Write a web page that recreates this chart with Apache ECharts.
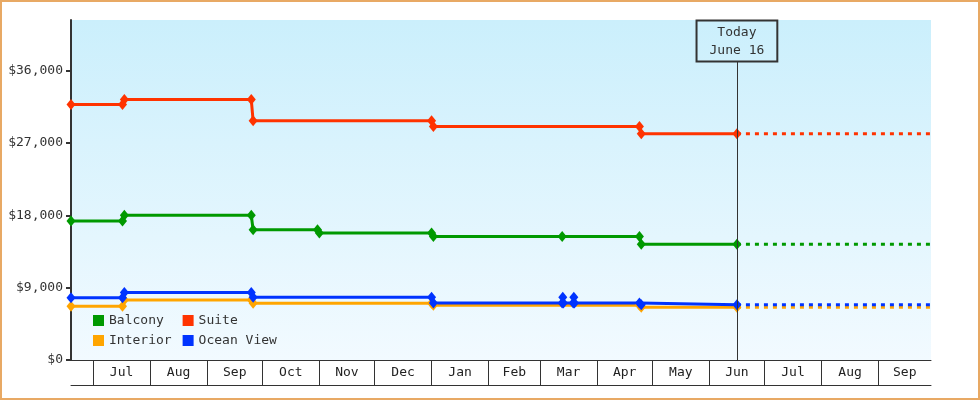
<!DOCTYPE html>
<html><head><meta charset="utf-8">
<script src="https://cdn.jsdelivr.net/npm/echarts@6/dist/echarts.min.js"></script>
<style>html,body{margin:0;padding:0;background:#fff}#c{width:980px;height:400px}</style>
</head><body><div id="c"></div>
<script>
// ---- data ----
const seriesNames = ['Balcony', 'Suite', 'Interior', 'Ocean View'];
const seriesColors = ['#009900', '#ff3300', '#ffa500', '#0033ff'];

const balcony = [
  ['2022-06-19', 17300], ['2022-07-17', 17300], ['2022-07-18', 18000], ['2022-09-25', 18000],
  ['2022-09-26', 16200], ['2022-10-31', 16200], ['2022-11-01', 15800], ['2023-01-01', 15800],
  ['2023-01-02', 15350], ['2023-03-13', 15350], ['2023-04-24', 15350], ['2023-04-25', 14400],
  ['2023-06-16', 14400]
];
const suite = [
  ['2022-06-19', 31800], ['2022-07-17', 31800], ['2022-07-18', 32400], ['2022-09-25', 32400],
  ['2022-09-26', 29750], ['2023-01-01', 29750], ['2023-01-02', 29050], ['2023-04-24', 29050],
  ['2023-04-25', 28150], ['2023-06-16', 28150]
];
const interior = [
  ['2022-06-19', 6700], ['2022-07-17', 6700], ['2022-07-18', 7450], ['2022-09-25', 7450],
  ['2022-09-26', 7050], ['2023-01-01', 7050], ['2023-01-02', 6800], ['2023-04-24', 6800],
  ['2023-04-25', 6550], ['2023-06-16', 6550]
];
const oceanView = [
  ['2022-06-19', 7750], ['2022-07-17', 7750], ['2022-07-18', 8400], ['2022-09-25', 8400],
  ['2022-09-26', 7800], ['2023-01-01', 7800], ['2023-01-02', 7080], ['2023-03-13', 7080],
  ['2023-03-13 08', 7800], ['2023-03-13 16', 7080], ['2023-03-19', 7080], ['2023-03-19 08', 7800],
  ['2023-03-19 16', 7080], ['2023-04-24', 7080], ['2023-04-25', 6870], ['2023-06-16', 6870]
];

const today = '2023-06-16';
const todayLabel = ['Today', 'June 16'];
const axisStart = '2022-06-19';
const axisEnd = '2023-09-29 12';
const monthStarts = ['2022-07-01', '2022-08-01', '2022-09-01', '2022-10-01', '2022-11-01', '2022-12-01',
  '2023-01-01', '2023-02-01', '2023-03-01', '2023-04-01', '2023-05-01', '2023-06-01',
  '2023-07-01', '2023-08-01', '2023-09-01'];
const monthLabels = ['Jul', 'Aug', 'Sep', 'Oct', 'Nov', 'Dec', 'Jan', 'Feb', 'Mar', 'Apr', 'May', 'Jun', 'Jul', 'Aug', 'Sep'];
const yTicks = [0, 9000, 18000, 27000, 36000];
const yMax = 42300;

// ---- helpers ----
function ts(s) {
  const [d, h] = s.split(' ');
  const [y, m, dd] = d.split('-').map(Number);
  return new Date(y, m - 1, dd, h ? Number(h) : 0).getTime();
}
const FONT = 'DejaVu Sans Mono';
const tMin = ts(axisStart), tMax = ts(axisEnd), tToday = ts(today);
const tickTs = monthStarts.map(ts);
const labelTs = tickTs.map((t, i) => (t + (i + 1 < tickTs.length ? tickTs[i + 1] : tMax)) / 2);
const fmtMoney = v => '$' + String(v).replace(/\B(?=(\d{3})+(?!\d))/g, ',');
function monthLabelFor(v) {
  let best = 0, bd = Infinity;
  labelTs.forEach((t, i) => { const dd = Math.abs(t - v); if (dd < bd) { bd = dd; best = i; } });
  return monthLabels[best];
}

const allData = [balcony, suite, interior, oceanView];
const series = [];
allData.forEach((d, i) => {
  series.push({
    name: seriesNames[i],
    type: 'line',
    data: d.map(p => [ts(p[0]), p[1]]),
    symbol: 'diamond',
    symbolSize: [9, 11],
    showAllSymbol: true,
    color: seriesColors[i],
    lineStyle: { width: 3, color: seriesColors[i] },
    itemStyle: { color: seriesColors[i] },
    z: 3,
    emphasis: { disabled: true }
  });
});
// projections (dotted)
allData.forEach((d, i) => {
  const last = d[d.length - 1][1];
  series.push({
    name: seriesNames[i] + ' projection',
    type: 'line',
    data: [[tToday, last], [tMax, last]],
    symbol: 'none',
    lineStyle: { width: 3, type: [4, 5], color: seriesColors[i] },
    z: 2,
    emphasis: { disabled: true }
  });
});
// today marker line
series.push({
  name: 'today',
  type: 'line',
  data: [],
  markLine: {
    silent: true,
    symbol: ['none', 'none'],
    animation: false,
    lineStyle: { color: '#333', width: 1, type: 'solid' },
    label: {
      show: true,
      position: 'end',
      distance: 0,
      formatter: todayLabel.join('\n'),
      fontFamily: FONT, fontSize: 13, color: '#333',
      lineHeight: 18,
      padding: [3, 13, 2, 13],
      borderColor: '#333', borderWidth: 1,
      backgroundColor: 'transparent'
    },
    data: [[{ coord: [tToday, 0] }, { coord: [tToday, yMax * (1 - 41.5 / 340)] }]]
  },
  z: 1
});

const legendCommon = {
  left: 93, padding: 0, icon: 'rect', itemWidth: 11, itemHeight: 11,
  itemGap: 11, itemTextGap: 3, orient: 'horizontal', selectedMode: false,
  formatter: name => name.padEnd(8, ' '),
  textStyle: { fontFamily: FONT, fontSize: 13, color: '#333' }
};

const chart = echarts.init(document.getElementById('c'), null, { renderer: 'canvas' });
chart.setOption({
  animation: false,
  graphic: [{
    type: 'rect', silent: true, z: 100,
    shape: { x: 1, y: 1, width: 978, height: 398 },
    style: { fill: 'none', stroke: '#e8a964', lineWidth: 2 }
  }],
  grid: {
    left: 71, right: 49, top: 20, bottom: 40, containLabel: false,
    show: true, borderWidth: 0,
    backgroundColor: new echarts.graphic.LinearGradient(0, 0, 0, 1, [
      { offset: 0, color: 'rgb(203,239,252)' },
      { offset: 1, color: 'rgb(242,250,255)' }
    ])
  },
  legend: [
    Object.assign({}, legendCommon, { top: 314, data: [seriesNames[0], seriesNames[1]] }),
    Object.assign({}, legendCommon, { top: 334, data: [seriesNames[2], seriesNames[3]] })
  ],
  xAxis: [{
    type: 'value', min: tMin, max: tMax, scale: true,
    axisLine: { show: true, lineStyle: { color: '#333', width: 1 } },
    axisTick: { show: true, customValues: tickTs, length: 25, inside: false, lineStyle: { color: '#333', width: 1 } },
    axisLabel: {
      show: true, customValues: labelTs, margin: 6,
      fontFamily: FONT, fontSize: 13, color: '#222',
      formatter: v => monthLabelFor(v)
    },
    splitLine: { show: false }
  }, {
    type: 'value', min: tMin, max: tMax, scale: true, position: 'bottom', offset: 25,
    axisLine: { show: true, lineStyle: { color: '#333', width: 1 } },
    axisTick: { show: false }, axisLabel: { show: false }, splitLine: { show: false }
  }],
  yAxis: {
    type: 'value', min: 0, max: yMax,
    axisLine: { show: true, lineStyle: { color: '#333', width: 2 } },
    axisTick: { show: true, customValues: yTicks, length: 5, lineStyle: { color: '#333', width: 2 } },
    axisLabel: {
      customValues: yTicks, margin: 8, fontFamily: FONT, fontSize: 13, color: '#333',
      formatter: v => fmtMoney(v)
    },
    splitLine: { show: false }
  },
  series: series
});
</script></body></html>
